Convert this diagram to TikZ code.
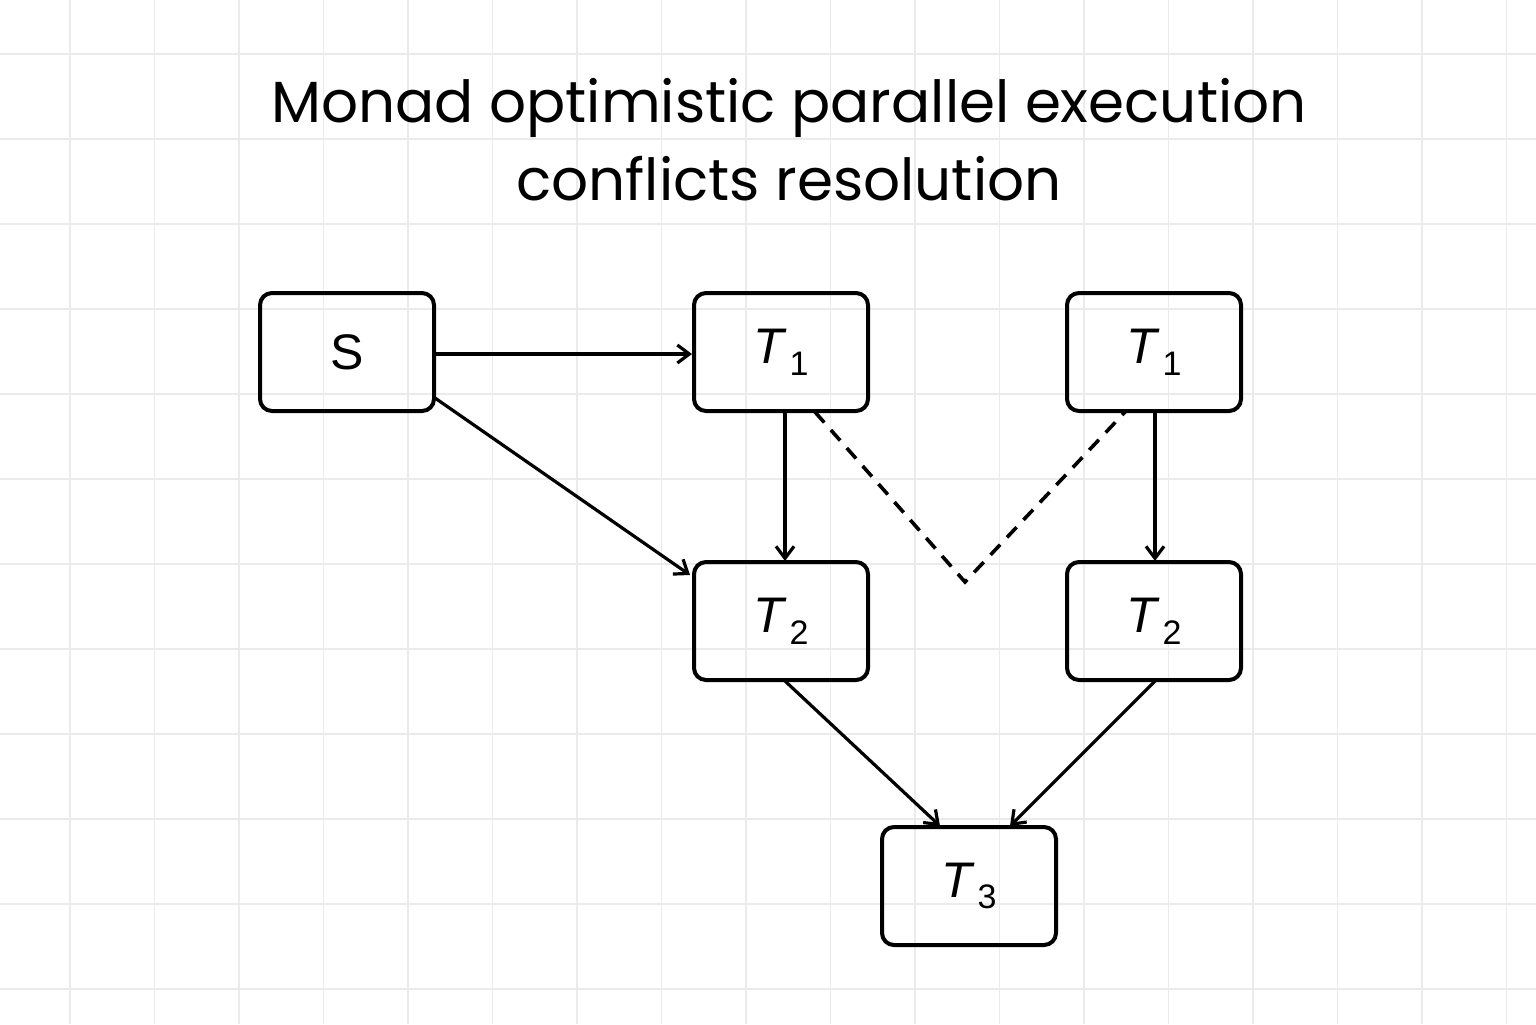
\documentclass[tikz,border=0pt]{standalone}
\usepackage{fontspec}
\setmainfont{Liberation Sans}
\newfontfamily\titlefont{Poppins}
\usetikzlibrary{arrows.meta}
\newcommand{\Tn}[1]{\textit{T}\kern0.05em\raisebox{-0.45ex}{\fontsize{17}{17}\selectfont #1}}
\begin{document}
\begin{tikzpicture}[x=0.5pt,y=-0.5pt,
  box/.style={draw,line width=2pt,rounded corners=6pt,minimum width=87pt,minimum height=59pt,inner sep=0pt,font=\fontsize{25}{25}\selectfont},
  arr/.style={line width=1.6pt,-{Straight Barb[length=6pt,width=9pt]}}]
\useasboundingbox (0,0) rectangle (1536,1024);
\fill[white] (0,0) rectangle (1536,1024);
\foreach \i in {0,...,17} \draw[black!8,line width=0.8pt] (70+84.5*\i,0) -- (70+84.5*\i,1024);
\foreach \j in {0,...,11} \draw[black!8,line width=0.8pt] (0,54+85*\j) -- (1536,54+85*\j);
\node[font=\titlefont\fontsize{29}{39}\selectfont,align=center] (title) at (789,140) {Monad optimistic parallel execution\\conflicts resolution};
\node[box] (s) at (347,352) {S};
\node[box] (t1a) at (781,352) {\Tn{1}};
\node[box] (t1b) at (1154,352) {\Tn{1}};
\node[box] (t2a) at (781,621) {\Tn{2}};
\node[box] (t2b) at (1154,621) {\Tn{2}};
\node[box] (t3) at (969,886) {\Tn{3}};
\coordinate (v) at (965,582);
\draw[arr] (s.east |- 0,354) -- (t1a.west |- 0,354);
\draw[arr] (435,398) -- (690,575);
\draw[arr] (785,411) -- (785,561);
\draw[arr] (1155,411) -- (1155,561);
\draw[arr] (785,681) -- (940,826);
\draw[arr] (1155,681) -- (1010,826);
\draw[line width=1.8pt,dash pattern=on 7pt off 5pt] (815,412) -- (v) -- (1125,412);
\end{tikzpicture}
\end{document}
